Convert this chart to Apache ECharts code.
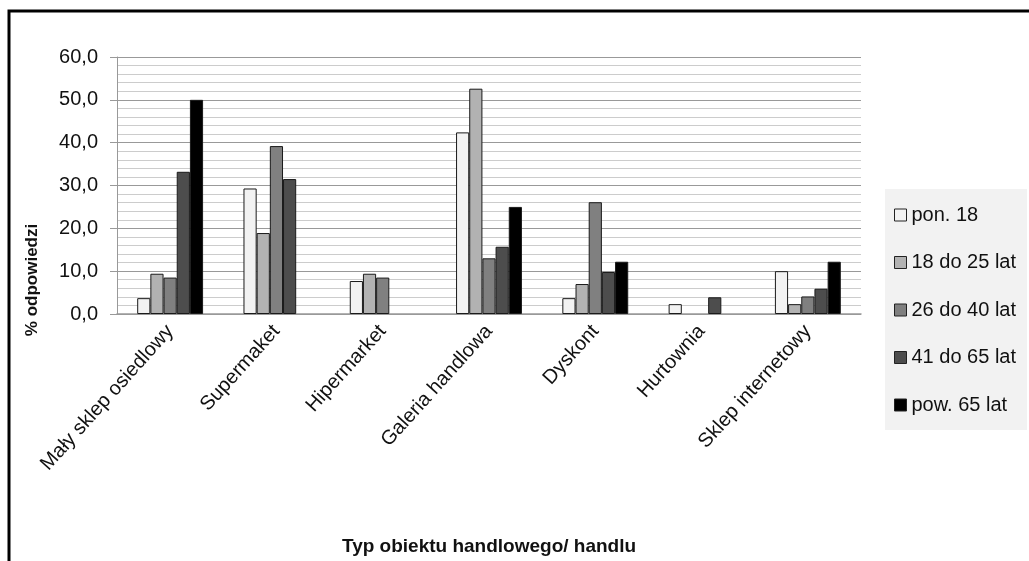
<!DOCTYPE html>
<html>
<head>
<meta charset="utf-8">
<script src="https://cdn.jsdelivr.net/npm/echarts@6/dist/echarts.min.js"></script>
<style>
  html, body { margin: 0; padding: 0; background: #ffffff; }
  #chart { width: 1029px; height: 561px; }
</style>
</head>
<body>
<div id="chart"></div>
<script>
// Store types (x-axis categories)
const categories = [
  'Mały sklep osiedlowy', 'Supermaket', 'Hipermarket', 'Galeria handlowa',
  'Dyskont', 'Hurtownia', 'Sklep internetowy'
];

// Age groups (legend)
const groups = ['pon. 18', '18 do 25 lat', '26 do 40 lat', '41 do 65 lat', 'pow. 65 lat'];

// % of answers per age group, one value per store type
const ponizej18 = [3.7, 29.3, 7.7, 42.4, 3.7, 2.3, 10.0];
const od18do25  = [9.4, 18.9, 9.4, 52.6, 7.0, 0.0, 2.3];
const od26do40  = [8.5, 39.2, 8.5, 13.0, 26.1, 0.0, 4.1];
const od41do65  = [33.2, 31.5, 0.0, 15.7, 9.8, 3.9, 5.9];
const powyzej65 = [50.0, 0.0, 0.0, 25.0, 12.2, 0.0, 12.2];

// Y-axis ticks
const yMin = 0, yMax = 60, yStep = 10;

const seriesValues = [ponizej18, od18do25, od26do40, od41do65, powyzej65];
const fills = ['#f2f2f2', '#b2b2b2', '#808080', '#4d4d4d', '#000000'];

const FONT = '"Liberation Sans", Arial, sans-serif';
const fmt = v => v.toFixed(1).replace('.', ',');

const chart = echarts.init(document.getElementById('chart'), null, { renderer: 'canvas' });

chart.setOption({
  animation: false,
  backgroundColor: '#ffffff',
  textStyle: { fontFamily: FONT, color: '#111' },
  grid: { left: 117, right: 168, top: 57, bottom: 247, containLabel: false },
  legend: {
    orient: 'vertical',
    left: 885,
    top: 189,
    backgroundColor: '#f2f2f2',
    padding: [16, 11, 15, 9],
    itemGap: 27.5,
    itemWidth: 12,
    itemHeight: 12,
    icon: 'rect',
    data: groups,
    itemStyle: { borderColor: '#222', borderWidth: 1 },
    textStyle: { fontFamily: FONT, fontSize: 20, color: '#111', lineHeight: 20, padding: [0, 0, 0, 0] }
  },
  xAxis: {
    type: 'category',
    data: categories,
    axisLine: { lineStyle: { color: '#999', width: 1.5 } },
    axisTick: { show: false },
    axisLabel: {
      rotate: 48,
      interval: 0,
      margin: 14,
      fontSize: 20,
      fontFamily: FONT,
      color: '#111'
    }
  },
  yAxis: {
    type: 'value',
    min: yMin,
    max: yMax,
    interval: yStep,
    axisLine: { show: true, lineStyle: { color: '#999', width: 1 } },
    axisTick: { show: true, length: 7, lineStyle: { color: '#999' } },
    axisLabel: { formatter: fmt, fontSize: 20, margin: 19, fontFamily: FONT, color: '#111' },
    splitLine: { show: true, lineStyle: { color: '#999999', width: 1.2 } },
    minorTick: { show: false, splitNumber: 5 },
    minorSplitLine: { show: true, lineStyle: { color: '#cccccc', width: 1.2 } }
  },
  series: groups.map((name, i) => ({
    name,
    type: 'bar',
    // a zero share has no bar at all
    data: seriesValues[i].map(v => (v === 0 ? null : v)),
    barGap: '0%',
    barCategoryGap: '38%',
    itemStyle: { color: fills[i], borderColor: '#1a1a1a', borderWidth: 1 }
  })),
  graphic: [
    {
      type: 'rect',
      silent: true,
      shape: { x: 9, y: 11, width: 1040, height: 600 },
      style: { fill: 'none', stroke: '#000', lineWidth: 3 },
      z: 100
    },
    {
      type: 'text',
      x: 32,
      y: 280,
      rotation: Math.PI / 2,
      style: {
        text: '% odpowiedzi',
        font: 'bold 17px ' + FONT,
        fill: '#111',
        align: 'center',
        verticalAlign: 'middle'
      }
    },
    {
      type: 'text',
      x: 489,
      y: 547,
      style: {
        text: 'Typ obiektu handlowego/ handlu',
        font: 'bold 19px ' + FONT,
        fill: '#111',
        align: 'center',
        verticalAlign: 'middle'
      }
    }
  ]
});
</script>
</body>
</html>
